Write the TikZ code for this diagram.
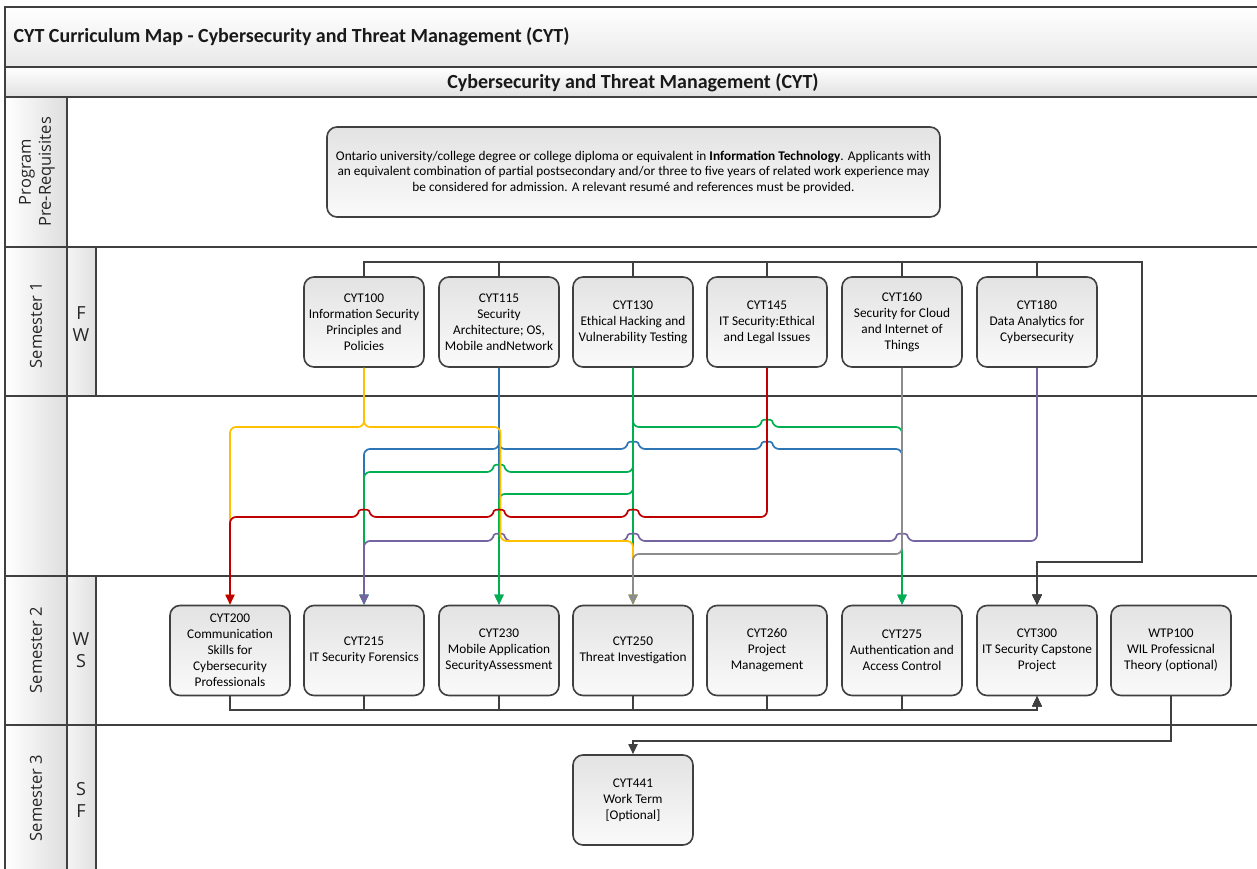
\documentclass[tikz,border=0pt]{standalone}
\usepackage{fontspec}
\setmainfont{Carlito}
\newfontfamily\hdfont{Open Sans}
\usetikzlibrary{arrows.meta}
\definecolor{frm}{HTML}{404040}
\definecolor{cyel}{HTML}{FFC000}
\definecolor{cblu}{HTML}{2E75B6}
\definecolor{cgrn}{HTML}{00B050}
\definecolor{cred}{HTML}{C00000}
\definecolor{cgry}{HTML}{8C8C8C}
\definecolor{cpur}{HTML}{7464A0}
\newcommand\jmpL[2]{-- (#1+6,#2) .. controls (#1+5,#2-8) and (#1-5,#2-8) .. (#1-6,#2)}
\newcommand\jmpR[2]{-- (#1-6,#2) .. controls (#1-5,#2-8) and (#1+5,#2-8) .. (#1+6,#2)}
\begin{document}
\begin{tikzpicture}[x=1pt,y=-1pt,
  box/.style={draw=frm, line width=1.6pt, rounded corners=10pt, minimum width=120pt, minimum height=90pt, inner sep=1pt, align=center, top color=black!11, bottom color=black!2, font=\fontsize{13.3}{16}\selectfont},
  ln/.style={line width=1.7pt, rounded corners=6pt},
  tip/.style={-{Triangle[length=10pt,width=9pt]}},
  dk/.style={draw=frm, line width=1.8pt},
  grid/.style={draw=frm, line width=2.2pt},
  hd/.style={font=\hdfont\fontsize{16.5}{20}\selectfont, text=black!85, rotate=90, align=center},
  lt/.style={font=\hdfont\fontsize{18}{22}\selectfont, align=center, text=black!85}
]
\useasboundingbox (0,0) rectangle (1257,869);
% backgrounds
\fill[top color=white, bottom color=black!9] (5,7) rectangle (1262,67);
\fill[top color=white, bottom color=black!12] (5,67) rectangle (1262,97);
\foreach \a/\b in {97/247,247/396,396/576,576/725,725/872}
  \fill[left color=white, right color=black!13] (5,\a) rectangle (67,\b);
\foreach \a/\b in {247/396,576/725,725/872}
  \fill[left color=black!4, right color=black!12] (67,\a) rectangle (96,\b);
% grid
\foreach \yy in {7,67,97,247,396,576,725}
  \draw[grid] (5,\yy) -- (1262,\yy);
\draw[grid] (5,5.9) -- (5,872);
\draw[grid] (67,97) -- (67,872);
\draw[grid] (96,247) -- (96,396);
\draw[grid] (96,576) -- (96,872);
% titles
\node[anchor=west, font=\bfseries\fontsize{20}{24}\selectfont, text=black!90] (title) at (10,37) {CYT Curriculum Map - Cybersecurity and Threat Management (CYT)};
\node[font=\bfseries\fontsize{20}{24}\selectfont, text=black!90] (sub) at (633,83) {Cybersecurity and Threat Management (CYT)};
% lane labels
\node[hd] (lpre) at (37,172) {Program\\Pre-Requisites};
\node[hd] (ls1) at (36,325) {Semester 1};
\node[hd] (ls2) at (36,650) {Semester 2};
\node[hd] (ls3) at (36,798) {Semester 3};
\node[lt] (t1) at (81,324) {F\\W};
\node[lt] (t2) at (81,650) {W\\S};
\node[lt] (t3) at (81,800) {S\\F};
% prerequisites
\node[box, minimum width=613pt, font=\fontsize{13.3}{15.5}\selectfont] (pre) at (633.5,172) {Ontario university/college degree or college diploma or equivalent in \textbf{Information Technology}. Applicants with\\an equivalent combination of partial postsecondary and/or three to five years of related work experience may\\be considered for admission. A relevant resumé and references must be provided.};
% semester 1
\node[box] (b100) at (364,322) {CYT100\\Information Security\\Principles and\\Policies};
\node[box] (b115) at (499,322) {CYT115\\Security\\Architecture; OS,\\Mobile andNetwork};
\node[box] (b130) at (633,322) {CYT130\\Ethical Hacking and\\Vulnerability Testing};
\node[box] (b145) at (767,322) {CYT145\\IT Security:Ethical\\and Legal Issues};
\node[box] (b160) at (902,322) {CYT160\\Security for Cloud\\and Internet of\\Things};
\node[box] (b180) at (1037,322) {CYT180\\Data Analytics for\\Cybersecurity};
% semester 2
\node[box] (b200) at (230,650.5) {CYT200\\Communication\\Skills for\\Cybersecurity\\Professionals};
\node[box] (b215) at (364,650.5) {CYT215\\IT Security Forensics};
\node[box] (b230) at (499,650.5) {CYT230\\Mobile Application\\SecurityAssessment};
\node[box] (b250) at (633,650.5) {CYT250\\Threat Investigation};
\node[box] (b260) at (767,650.5) {CYT260\\Project\\Management};
\node[box] (b275) at (902,650.5) {CYT275\\Authentication and\\Access Control};
\node[box] (b300) at (1037,650.5) {CYT300\\IT Security Capstone\\Project};
\node[box] (bw) at (1171,650.5) {WTP100\\WIL Professicnal\\Theory (optional)};
% semester 3
\node[box] (b441) at (633,800) {CYT441\\Work Term\\{[Optional]}};
% bus coordinates
\coordinate (busA) at (0,262);
\coordinate (busB) at (0,710);
\coordinate (ra) at (1142,262);
\coordinate (rb) at (1142,562);
\coordinate (rc) at (1037,562);
\coordinate (sb) at (1037,710);
\coordinate (wa) at (1171,741);
\coordinate (wb) at (633,741);
% dark connectors
\foreach \n in {b100,b115,b130,b145,b160,b180}
  \draw[dk,tip] (\n.north) -- (\n.north |- busA) -- (ra) -- (rb) -- (rc) -- (b300.north);
\foreach \n in {b200,b215,b230,b250,b260,b275}
  \draw[dk,tip] (\n.south) -- (\n.south |- busB) -- (sb) -- (b300.south);
\draw[dk,tip] (bw.south) -- (wa) -- (wb) -- (b441.north);
% blue
\draw[ln,cblu,tip] (b115.south) -- (b230.north);
\draw[ln,cblu,tip] (b115.south) -- (499,449) -- (364,449) -- (b215.north);
\draw[ln,cblu,tip] (b115.south) -- (499,449) \jmpR{633}{449} \jmpR{767}{449} -- (902,449) -- (b275.north);
% green
\draw[ln,cgrn,tip] (b130.south) -- (b250.north);
\draw[ln,cgrn,tip] (b130.south) -- (633,427) \jmpR{767}{427} -- (902,427) -- (b275.north);
\draw[ln,cgrn,tip] (b130.south) -- (633,472) \jmpL{499}{472} -- (364,472) -- (b215.north);
\draw[ln,cgrn,tip] (b130.south) -- (633,494) -- (499,494) -- (b230.north);
% purple
\draw[ln,cpur,tip] (b180.south) -- (1037,541) \jmpL{902}{541} \jmpL{633}{541} \jmpL{499}{541} -- (364,541) -- (b215.north);
% yellow
\draw[ln,cyel,tip] (b100.south) -- (364,427) -- (230,427) -- (b200.north);
\draw[ln,cyel,tip] (b100.south) -- (364,427) -- (500.5,427) -- (500.5,541) -- (633,541) -- (b250.north);
% red
\draw[ln,cred,tip] (b145.south) -- (767,517) \jmpL{633}{517} \jmpL{499}{517} \jmpL{364}{517} -- (230,517) -- (b200.north);
% gray
\draw[ln,cgry,tip] (b160.south) -- (902,554) -- (633,554) -- (b250.north);
\end{tikzpicture}
\end{document}
